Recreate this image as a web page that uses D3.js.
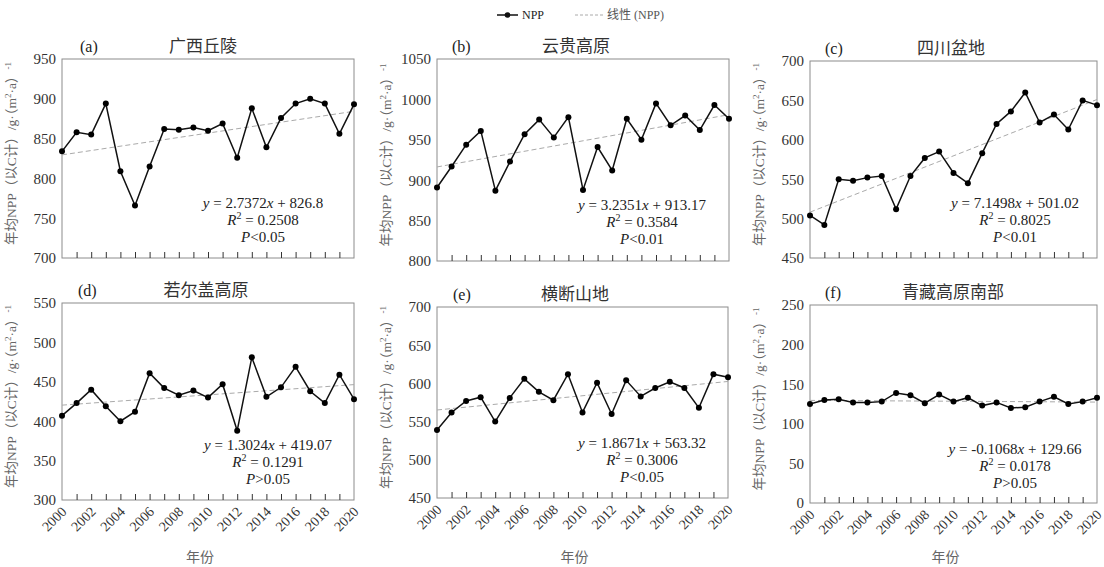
<!DOCTYPE html>
<html>
<head>
<meta charset="utf-8">
<script src="https://cdn.jsdelivr.net/npm/d3@7"></script>
<style>
  body { margin: 0; background: #fff; }
  svg { display: block; }
</style>
</head>
<body>
<svg id="chart" width="1104" height="567"></svg>
<script>
const years = d3.range(2000, 2021);
const yearTickLabels = [2000, 2002, 2004, 2006, 2008, 2010, 2012, 2014, 2016, 2018, 2020];

const regionNames = ["广西丘陵", "云贵高原", "四川盆地", "若尔盖高原", "横断山地", "青藏高原南部"];
const panelLetters = ["a", "b", "c", "d", "e", "f"];
const yDomains = [[700, 950], [800, 1050], [450, 700], [300, 550], [450, 700], [0, 250]];

const nppGuangxi = [834, 858, 855, 894, 809, 766, 815, 862, 861, 864, 860, 869, 826, 888, 839, 876, 894, 900, 894, 856, 893];
const nppYungui = [891, 917, 944, 961, 887, 923, 957, 975, 953, 978, 888, 941, 912, 976, 950, 995, 968, 980, 962, 993, 976];
const nppSichuan = [504, 492, 550, 548, 552, 554, 512, 554, 577, 585, 558, 545, 583, 620, 636, 660, 622, 632, 613, 650, 644];
const nppZoige = [407, 423, 440, 419, 400, 412, 461, 442, 433, 439, 430, 447, 388, 481, 431, 443, 469, 438, 423, 459, 428];
const nppHengduan = [539, 562, 577, 582, 550, 581, 606, 589, 578, 612, 562, 601, 560, 604, 583, 594, 602, 594, 568, 612, 608];
const nppTibetSouth = [125, 130, 131, 127, 127, 128, 139, 136, 126, 137, 128, 133, 123, 127, 120, 121, 128, 134, 125, 128, 133];
const nppSeries = [nppGuangxi, nppYungui, nppSichuan, nppZoige, nppHengduan, nppTibetSouth];

const trendSlopes = [2.7372, 3.2351, 7.1498, 1.3024, 1.8671, -0.1068];
const trendIntercepts = [826.8, 913.17, 501.02, 419.07, 563.32, 129.66];
const slopeLabels = ["2.7372", "3.2351", "7.1498", "1.3024", "1.8671", "-0.1068"];
const interceptLabels = ["826.8", "913.17", "501.02", "419.07", "563.32", "129.66"];
const r2Labels = ["0.2508", "0.3584", "0.8025", "0.1291", "0.3006", "0.0178"];
const pLabels = ["<0.05", "<0.01", "<0.01", ">0.05", "<0.05", ">0.05"];

// plot boxes [left, top, right, bottom] and annotation spots
const boxes = [
  [62, 59, 354, 258], [437, 59, 729, 261], [810, 61, 1097, 258],
  [62, 303, 354, 500], [437, 307, 728, 498], [810, 305, 1097, 503]
];
const letterX = [80, 452, 825, 78, 453, 825];
const titleX = [203, 576, 951, 206, 575, 953];
const eqX = [263, 642, 1015, 268, 642, 1015];
const eqY = [203, 205, 203, 445, 443, 449];

const serif = "'Liberation Serif', 'Times New Roman', 'Noto Sans CJK SC', serif";
const svg = d3.select("#chart");

// legend
const legend = svg.append("g").attr("font-family", serif).attr("font-size", 12).attr("fill", "#222");
legend.append("line").attr("x1", 497).attr("x2", 518).attr("y1", 15).attr("y2", 15)
  .attr("stroke", "#111").attr("stroke-width", 1.5);
legend.append("circle").attr("cx", 507.5).attr("cy", 15).attr("r", 2.8).attr("fill", "#111");
legend.append("text").attr("x", 522).attr("y", 19).text("NPP");
legend.append("line").attr("x1", 575).attr("x2", 603).attr("y1", 15).attr("y2", 15)
  .attr("stroke", "#aaa").attr("stroke-width", 1).attr("stroke-dasharray", "3,2");
legend.append("text").attr("x", 607).attr("y", 19).attr("fill", "#555").text("线性 (NPP)");

const c45 = Math.SQRT1_2;

const drawPanel = (i) => {
  const [left, top, right, bottom] = boxes[i];
  const values = nppSeries[i];
  const g = svg.append("g");

  const x = d3.scaleLinear().domain([2000, 2020]).range([left, right]);
  const y = d3.scaleLinear().domain(yDomains[i]).range([bottom, top]);

  // frame
  g.append("rect").attr("x", left).attr("y", top).attr("width", right - left).attr("height", bottom - top)
    .attr("fill", "none").attr("stroke", "#8c8c8c").attr("stroke-width", 1);

  // inner year ticks
  const xAxis = g.append("g").attr("transform", `translate(0,${bottom})`)
    .call(d3.axisBottom(x).tickValues(years.slice(1, -1)).tickSize(-6).tickFormat(() => ""));
  xAxis.select(".domain").remove();
  xAxis.selectAll(".tick line").attr("stroke", "#333");

  // rotated year labels (-45deg), bottom row only
  if (i >= 3) {
    g.append("g").selectAll("text").data(yearTickLabels).join("text")
      .attr("transform", d => `matrix(${c45},${-c45},${c45},${c45},${x(d) + 2},${bottom + 9})`)
      .attr("text-anchor", "end")
      .attr("dy", "0.35em")
      .attr("font-family", serif).attr("font-size", 14).attr("fill", "#333")
      .text(d => d);
  }

  // y labels
  const yAxis = g.append("g").attr("transform", `translate(${left},0)`)
    .call(d3.axisLeft(y).ticks(5).tickSize(0).tickPadding(6).tickFormat(d3.format("d")));
  yAxis.select(".domain").remove();
  yAxis.selectAll("text").attr("font-family", serif).attr("font-size", 15).attr("fill", "#333");

  // trend line
  const trend = t => trendSlopes[i] * (t - 1999) + trendIntercepts[i];
  g.append("line")
    .attr("x1", x(2000)).attr("y1", y(trend(2000)))
    .attr("x2", x(2020)).attr("y2", y(trend(2020)))
    .attr("stroke", "#aaa").attr("stroke-width", 1).attr("stroke-dasharray", "5,3");

  // series
  const line = d3.line().x((d, k) => x(years[k])).y(d => y(d));
  g.append("path").datum(values).attr("d", line)
    .attr("fill", "none").attr("stroke", "#111").attr("stroke-width", 1.5);
  g.append("g").selectAll("circle").data(values).join("circle")
    .attr("cx", (d, k) => x(years[k])).attr("cy", d => y(d)).attr("r", 3).attr("fill", "#000");

  // titles
  const titleY = top - 7;
  g.append("text").attr("x", letterX[i]).attr("y", titleY)
    .attr("font-family", serif).attr("font-size", 16).attr("fill", "#222").text(`(${panelLetters[i]})`);
  g.append("text").attr("x", titleX[i]).attr("y", titleY).attr("text-anchor", "middle")
    .attr("font-family", "'Noto Sans CJK SC', sans-serif").attr("font-size", 17).attr("fill", "#333")
    .text(regionNames[i]);

  // y axis title
  const yt = g.append("text")
    .attr("transform", `translate(${left - 46},${(top + bottom) / 2 - 5}) rotate(-90)`)
    .attr("text-anchor", "middle").attr("font-family", serif).attr("font-size", 13.5).attr("fill", "#666");
  yt.append("tspan").text("年均NPP（以C计）/g·（m");
  yt.append("tspan").attr("font-size", 9).attr("dy", -5).text("2");
  yt.append("tspan").attr("dy", 5).text("·a）");
  yt.append("tspan").attr("font-size", 9).attr("dy", -5).text("-1");

  // x axis title (bottom row only)
  if (i >= 3) {
    g.append("text").attr("x", (left + right) / 2 - 8).attr("y", 562).attr("text-anchor", "middle")
      .attr("font-family", "'Noto Sans CJK SC', sans-serif").attr("font-size", 14).attr("fill", "#666")
      .text("年份");
  }

  // regression text
  const eq = g.append("g").attr("font-family", serif).attr("font-size", 15).attr("fill", "#222")
    .attr("text-anchor", "middle");
  const l1 = eq.append("text").attr("x", eqX[i]).attr("y", eqY[i] + 5);
  l1.append("tspan").attr("font-style", "italic").text("y");
  l1.append("tspan").text(` = ${slopeLabels[i]}`);
  l1.append("tspan").attr("font-style", "italic").text("x");
  l1.append("tspan").text(` + ${interceptLabels[i]}`);
  const l2 = eq.append("text").attr("x", eqX[i]).attr("y", eqY[i] + 22);
  l2.append("tspan").attr("font-style", "italic").text("R");
  l2.append("tspan").attr("font-size", 10).attr("dy", -6).text("2");
  l2.append("tspan").attr("dy", 6).text(` = ${r2Labels[i]}`);
  const l3 = eq.append("text").attr("x", eqX[i]).attr("y", eqY[i] + 39);
  l3.append("tspan").attr("font-style", "italic").text("P");
  l3.append("tspan").text(pLabels[i]);
};

regionNames.forEach((_, i) => drawPanel(i));
</script>
</body>
</html>
